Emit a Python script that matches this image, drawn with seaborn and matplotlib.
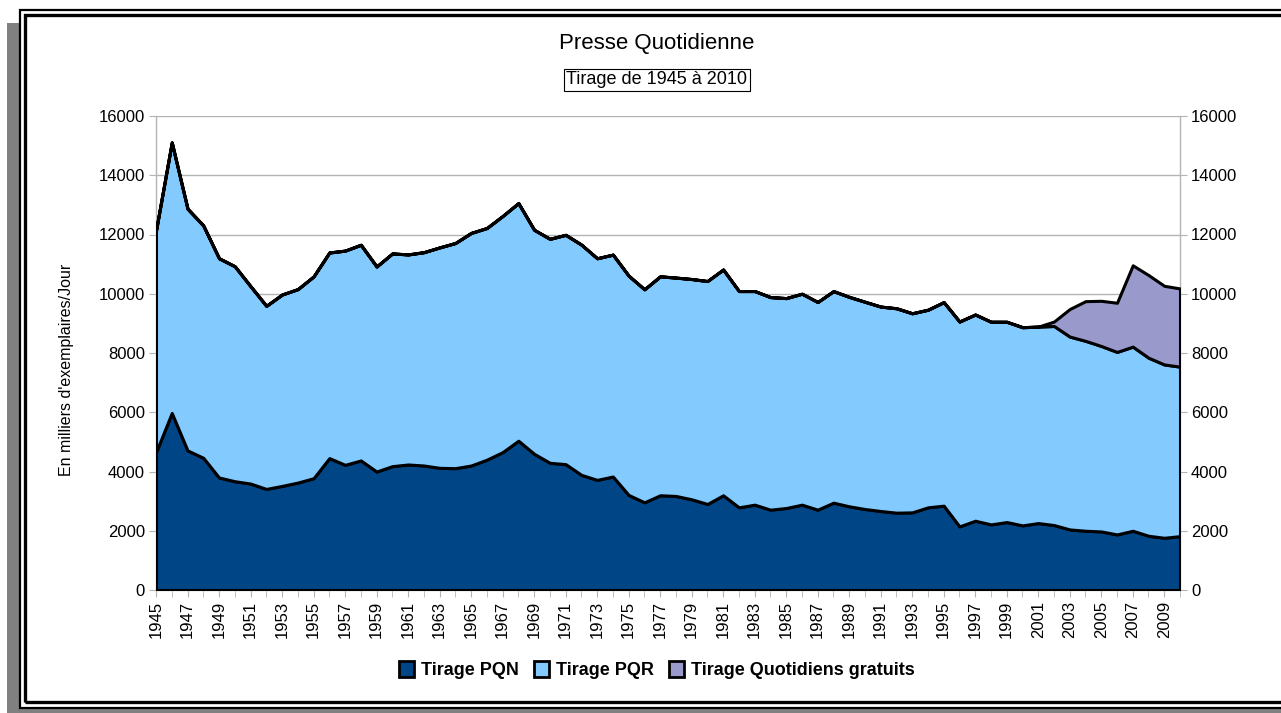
import numpy as np
import matplotlib
matplotlib.use("Agg")
import matplotlib.pyplot as plt
from matplotlib.patches import Rectangle, Patch
import seaborn as sns

# Tirage (en milliers d'exemplaires / jour)
years = list(range(1945, 2011))

tirage_pqn = [
    4655, 5977, 4712, 4463, 3797, 3672, 3593, 3412, 3514, 3627,
    3774, 4452, 4226, 4373, 4000, 4181, 4237, 4203, 4124, 4113,
    4203, 4400, 4655, 5040, 4599, 4294, 4249, 3887, 3718, 3831,
    3209, 2960, 3198, 3175, 3062, 2904, 3198, 2791, 2881, 2712,
    2768, 2881, 2712, 2949, 2825, 2734, 2667, 2610, 2621, 2791,
    2847, 2147, 2339, 2215, 2294, 2181, 2260, 2192, 2045, 2000,
    1977, 1876, 2000, 1831, 1763, 1819,
]

tirage_pqr = [
    7480, 9130, 8160, 7840, 7400, 7255, 6660, 6180, 6460, 6530,
    6810, 6940, 7230, 7280, 6920, 7180, 7090, 7200, 7440, 7600,
    7850, 7820, 7970, 8020, 7560, 7560, 7740, 7770, 7480, 7490,
    7400, 7190, 7390, 7370, 7435, 7525, 7620, 7300, 7210, 7175,
    7085, 7120, 7010, 7140, 7070, 6995, 6900, 6900, 6720, 6670,
    6870, 6915, 6960, 6840, 6760, 6690, 6630, 6720, 6510, 6410,
    6260, 6160, 6215, 6010, 5850, 5720,
]

tirage_gratuits = [0] * 57 + [150, 930, 1340, 1525, 1660, 2745, 2790, 2655, 2640]

series_labels = ["Tirage PQN", "Tirage PQR", "Tirage Quotidiens gratuits"]
series_colors = ["#004586", "#83caff", "#9999cc"]
y_ticks = [0, 2000, 4000, 6000, 8000, 10000, 12000, 14000, 16000]

sns.set_style("white")
plt.rcParams["font.family"] = ["Liberation Sans", "DejaVu Sans"]
plt.rcParams["text.color"] = "black"
plt.rcParams["axes.labelcolor"] = "black"
plt.rcParams["xtick.labelcolor"] = "black"
plt.rcParams["ytick.labelcolor"] = "black"

W, H = 1281, 713
fig = plt.figure(figsize=(W / 100, H / 100), dpi=100)


def box(x0, y0, x1, y1):
    """Pixel box (top-left origin) -> figure fraction rect args."""
    return (x0 / W, 1 - y1 / H), (x1 - x0) / W, (y1 - y0) / H


# shadow + double border frame (behind the axes)
for (xy, w, h), kw in [
    (box(7, 23, 1300, 730), dict(facecolor="#808080", edgecolor="none")),
    (box(20, 10, 1310, 708), dict(facecolor="white", edgecolor="black", linewidth=1.6)),
    (box(25, 15, 1305, 702), dict(facecolor="none", edgecolor="black", linewidth=2.4)),
]:
    fig.patches.append(Rectangle(xy, w, h, transform=fig.transFigure, figure=fig,
                                 zorder=-5, **kw))

ax = fig.add_axes([156 / W, 1 - 590 / H, (1180 - 156) / W, (590 - 116) / H])
ax.set_zorder(5)
ax.set_facecolor("none")

ax.stackplot(years, tirage_pqn, tirage_pqr, tirage_gratuits,
             colors=series_colors, edgecolor="black", linewidth=2.2, zorder=3)

ax.set_xlim(1945, 2010)
ax.set_ylim(0, 16000)
ax.set_yticks(y_ticks)
ax.set_xticks(years[::2])
ax.set_xticks(years, minor=True)
ax.set_xticklabels([str(y) for y in years[::2]], rotation=90)
ax.grid(axis="y", color="#b3b3b3", linewidth=1, zorder=0)
ax.set_axisbelow(True)

for side in ["left", "right", "top", "bottom"]:
    ax.spines[side].set_color("#b3b3b3")
    ax.spines[side].set_linewidth(1)
ax.spines["top"].set_visible(False)

ax.tick_params(axis="y", which="both", left=True, right=True, labelright=True,
               direction="out", length=5, color="#b3b3b3", labelsize=12, pad=3)
ax.tick_params(axis="x", which="both", bottom=True, direction="out", length=5,
               color="#b3b3b3", labelsize=12, pad=3)

ax.set_ylabel("En milliers d'exemplaires/Jour", fontsize=11.5)
ax.yaxis.set_label_coords((74 - 156) / 1024, (590 - 370) / 474)

fig.text(657 / W, 1 - 43 / H, "Presse Quotidienne", ha="center", va="center", fontsize=16)
fig.text(657 / W, 1 - 80 / H, "Tirage de 1945 à 2010", ha="center", va="center", fontsize=13,
         bbox=dict(boxstyle="square,pad=0.12", facecolor="white", edgecolor="black", linewidth=0.8))

handles = [Patch(facecolor=c, edgecolor="black", linewidth=2) for c in series_colors]
fig.legend(handles, series_labels, loc="center", bbox_to_anchor=(657 / W, 1 - 670 / H),
           ncol=3, frameon=False, handlelength=0.85, handleheight=0.95, handletextpad=0.4,
           columnspacing=0.8, prop={"weight": "bold", "size": 13})

fig.savefig("out.png", dpi=100)
